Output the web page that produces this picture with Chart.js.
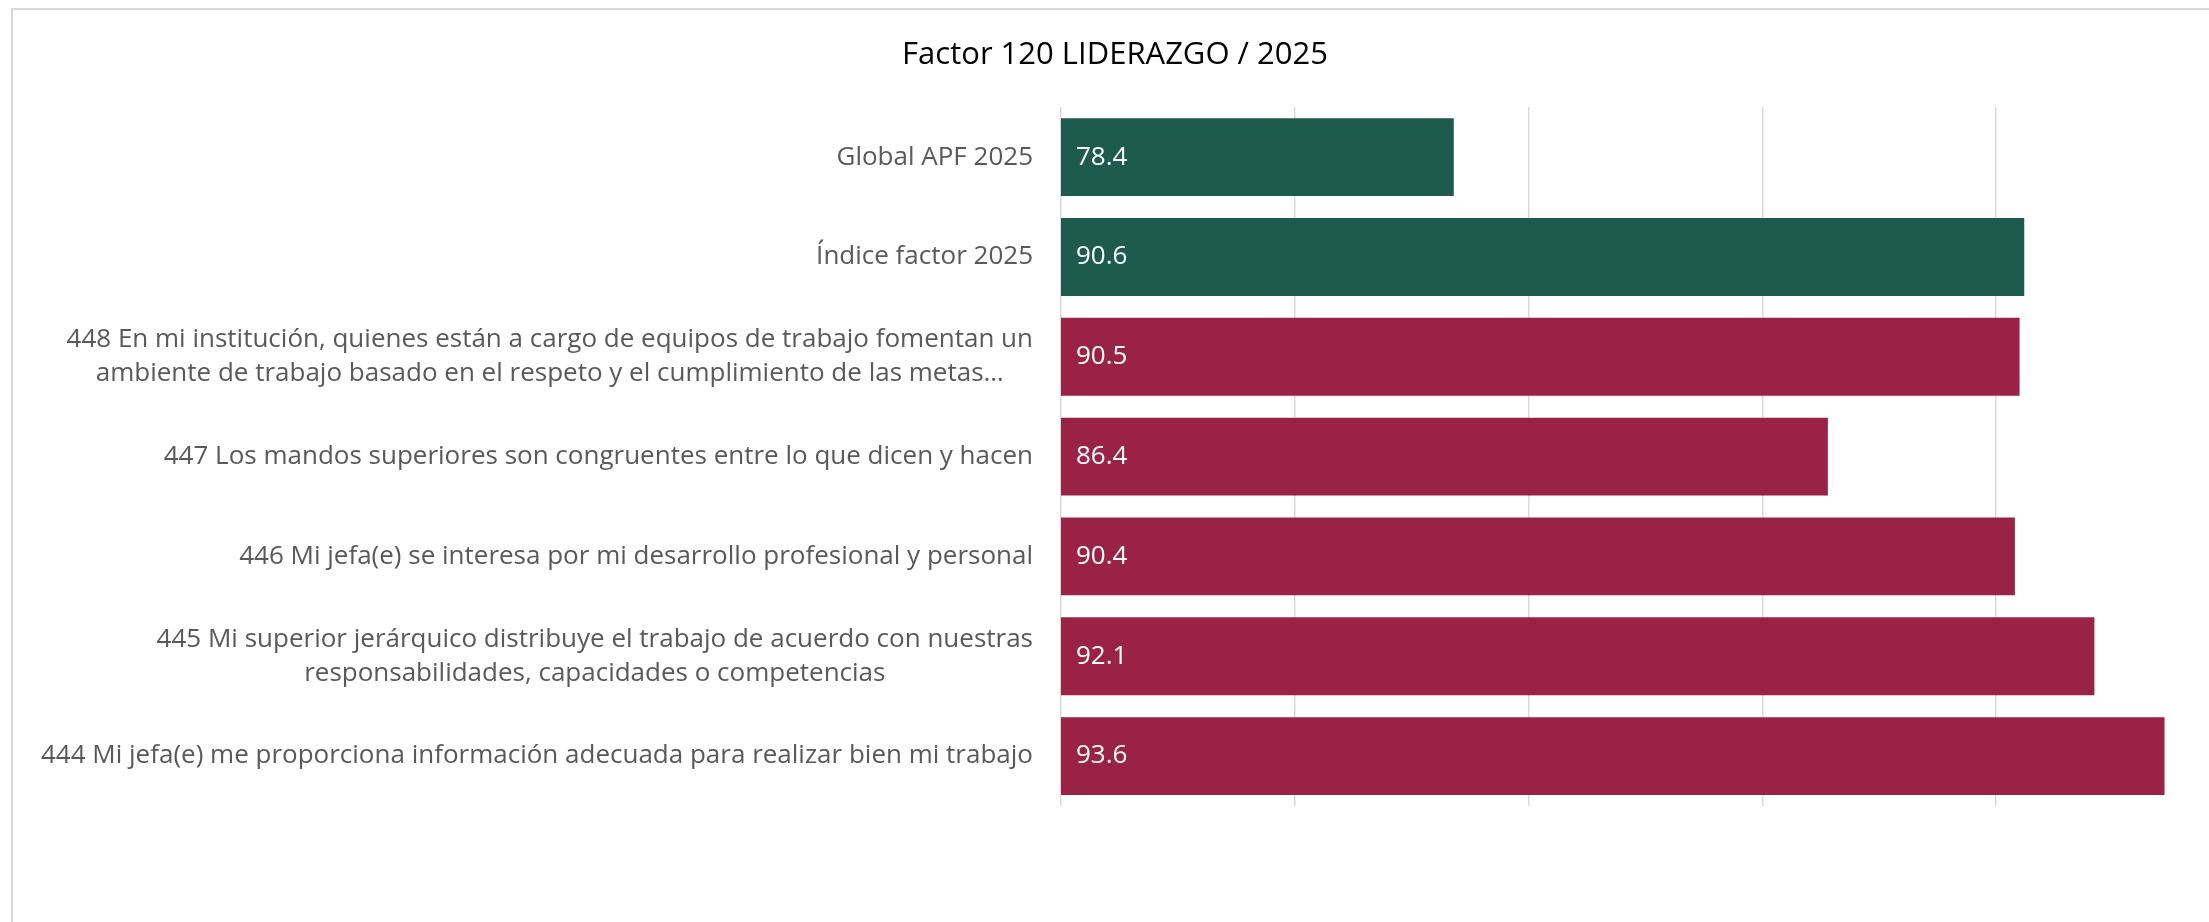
<!DOCTYPE html>
<html lang="es">
<head>
    <meta charset="UTF-8">
    <title>Factor 120 LIDERAZGO / 2025</title>
    <script src="https://cdn.jsdelivr.net/npm/chart.js"></script>
    <style>
        html, body { margin: 0; padding: 0; background: #ffffff; overflow: hidden; }
    </style>
</head>
<body>
    <canvas id="factorChart" width="2240" height="922"></canvas>

    <script>
        // Reactivos del factor (de arriba hacia abajo)
        const labels = [
            'Global APF 2025',
            'Índice factor 2025',
            ['448 En mi institución, quienes están a cargo de equipos de trabajo fomentan un',
             'ambiente de trabajo basado en el respeto y el cumplimiento de las metas…'],
            '447 Los mandos superiores son congruentes entre lo que dicen y hacen',
            '446 Mi jefa(e) se interesa por mi desarrollo profesional y personal',
            ['445 Mi superior jerárquico distribuye el trabajo de acuerdo con nuestras',
             'responsabilidades, capacidades o competencias'],
            '444 Mi jefa(e) me proporciona información adecuada para realizar bien mi trabajo'
        ];
        const scores = [78.4, 90.6, 90.5, 86.4, 90.4, 92.1, 93.6];
        // 'indice' = referencias generales, 'reactivo' = preguntas individuales
        const kinds = ['indice', 'indice', 'reactivo', 'reactivo', 'reactivo', 'reactivo', 'reactivo'];
        const axisMin = 70;
        const axisMax = 95;
        const axisStep = 5;

        const GREEN = '#1e5b4f';
        const MAROON = '#9b2247';
        const FONT = '"Open Sans", "Noto Sans", sans-serif';

        // Marco gris del gráfico
        const frame = {
            id: 'frame',
            beforeDraw(chart) {
                const c = chart.ctx;
                c.save();
                c.strokeStyle = '#d9d9d9';
                c.lineWidth = 2;
                c.beginPath();
                c.moveTo(12, chart.height);
                c.lineTo(12, 9);
                c.lineTo(chart.width, 9);
                c.stroke();
                c.restore();
            }
        };

        // Etiquetas de categoría: bloque alineado a la derecha, líneas centradas entre sí
        const categoryLabels = {
            id: 'categoryLabels',
            afterDraw(chart) {
                const c = chart.ctx;
                const yScale = chart.scales.y;
                const right = chart.chartArea.left - 28;
                const lineH = 34;
                c.save();
                c.font = '26px ' + FONT;
                c.fillStyle = '#595959';
                c.textAlign = 'center';
                c.textBaseline = 'middle';
                labels.forEach((lab, i) => {
                    const lines = Array.isArray(lab) ? lab : [lab];
                    const widest = Math.max(...lines.map(l => c.measureText(l).width));
                    const cx = right - widest / 2;
                    const cy = yScale.getPixelForValue(i);
                    lines.forEach((l, k) => {
                        c.fillText(l, cx, cy + (k - (lines.length - 1) / 2) * lineH);
                    });
                });
                c.restore();
            }
        };

        // Valor dentro de cada barra, junto a la base
        const valueLabels = {
            id: 'valueLabels',
            afterDraw(chart) {
                const c = chart.ctx;
                const x0 = chart.scales.x.getPixelForValue(axisMin);
                c.save();
                c.font = '26px ' + FONT;
                c.fillStyle = '#ffffff';
                c.textAlign = 'left';
                c.textBaseline = 'middle';
                scores.forEach((v, i) => {
                    c.fillText(v.toFixed(1), x0 + 15, chart.scales.y.getPixelForValue(i));
                });
                c.restore();
            }
        };

        new Chart(document.getElementById('factorChart').getContext('2d'), {
            type: 'bar',
            data: {
                labels: labels,
                datasets: [{
                    data: scores,
                    backgroundColor: kinds.map(k => k === 'indice' ? GREEN : MAROON),
                    borderWidth: 0,
                    barPercentage: 1,
                    categoryPercentage: 0.78
                }]
            },
            options: {
                indexAxis: 'y',
                responsive: false,
                animation: false,
                layout: { padding: { left: 0, right: 10, top: 0, bottom: 116 } },
                plugins: {
                    legend: { display: false },
                    tooltip: { enabled: false },
                    title: {
                        display: true,
                        text: 'Factor 120 LIDERAZGO / 2025',
                        color: '#000000',
                        font: { family: FONT, size: 31, weight: 'normal' },
                        padding: { top: 37, bottom: 33 }
                    }
                },
                scales: {
                    x: {
                        min: axisMin,
                        max: axisMax,
                        ticks: { display: false, stepSize: axisStep },
                        grid: { color: '#d9d9d9', lineWidth: 1.5, drawTicks: false },
                        border: { display: false }
                    },
                    y: {
                        ticks: { display: false },
                        grid: { display: false },
                        border: { display: false },
                        afterFit(scale) { scale.width = 1061; }
                    }
                }
            },
            plugins: [frame, categoryLabels, valueLabels]
        });
    </script>
</body>
</html>
